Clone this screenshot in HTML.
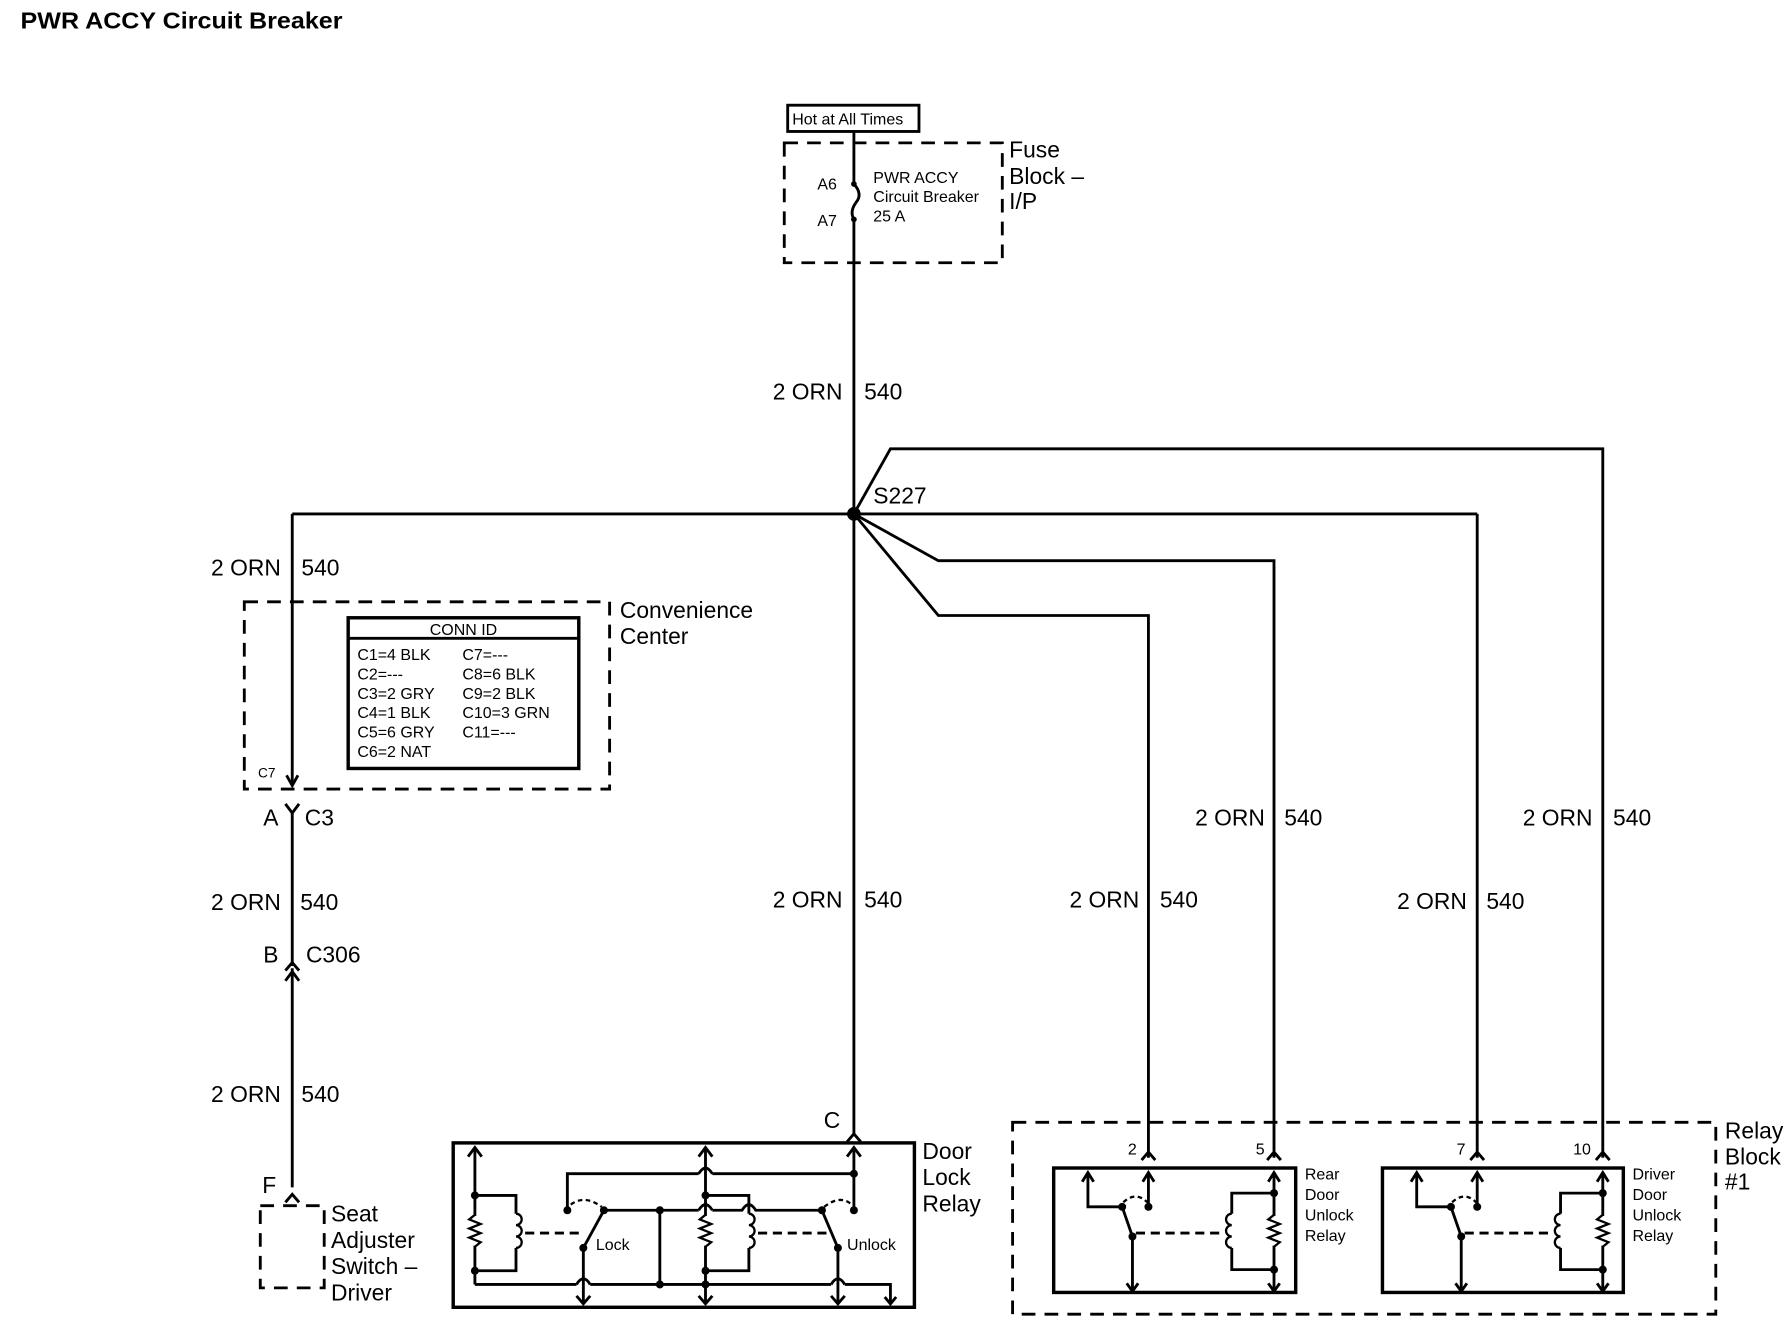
<!DOCTYPE html>
<html><head><meta charset="utf-8"><style>
html,body{margin:0;padding:0;background:#fff;}
svg{display:block;}
text{font-family:"Liberation Sans",Arial,sans-serif;fill:#000;}
</style></head><body>
<svg width="1790" height="1344" viewBox="0 0 1568 1177" xmlns="http://www.w3.org/2000/svg">
<rect x="0" y="0" width="1568" height="1177" fill="#fff"/>
<g font-size="20" font-weight="bold"><text x="18" y="25" textLength="282" lengthAdjust="spacingAndGlyphs">PWR ACCY Circuit Breaker</text></g>

<g stroke="#000" stroke-width="2.5" fill="none" stroke-linejoin="miter">
<rect x="690" y="92" width="115" height="23" stroke-width="2.5"/>
<rect x="687" y="125" width="191" height="105" stroke-dasharray="12,8"/>
<line x1="748" y1="115" x2="748" y2="161"/>
<path d="M748,161 Q756,170 750,177 Q744,185 748,192"/>
<line x1="748" y1="192" x2="748" y2="450"/>
<line x1="256" y1="450" x2="1294" y2="450"/>
<polyline points="1294,450 1294,1014"/>
<polyline points="748,450 780,393 1404,393 1404,1014"/>
<polyline points="748,450 822,491 1116,491 1116,1014"/>
<polyline points="748,450 822,539 1006,539 1006,1014"/>
<line x1="748" y1="450" x2="748" y2="995"/>
<line x1="256" y1="450" x2="256" y2="688"/>
<rect x="214" y="527" width="320" height="164" stroke-dasharray="12,8"/>
<rect x="305" y="541" width="202" height="132" stroke-width="3"/>
<line x1="305" y1="559" x2="507" y2="559"/>
<path d="M251,679 L256,688 L261,679"/>
<path d="M250,704 L256,712 L262,704"/>
<line x1="256" y1="712" x2="256" y2="846"/>
<path d="M250,850 L256,843 L262,850"/>
<line x1="256" y1="848" x2="256" y2="1040"/>
<path d="M250,859 L256,851 L262,859"/>
<path d="M250,1053 L256,1046 L262,1053"/>
<rect x="228" y="1056" width="56" height="72" stroke-dasharray="12,8"/>
<path d="M742,1000 L748,993 L754,1000"/>

<rect x="397" y="1001" width="404" height="144" stroke-width="3"/>
<line x1="416" y1="1005" x2="416" y2="1125"/>
<path d="M410,1013 L416,1005 L422,1013"/>
<polyline points="416,1047 452,1047 452,1113 416,1113"/>
<polyline points="416,1125 505,1125"/>
<path d="M505,1125 Q511,1115 517,1125"/>
<polyline points="517,1125 728,1125"/>
<path d="M728,1125 Q734,1115 740,1125"/>
<polyline points="740,1125 780,1125 780,1142"/>
<path d="M775,1136 L780,1142 L785,1136"/>
<polyline points="497,1060 497,1028 612,1028"/>
<path d="M612,1028 Q618,1018 624,1028"/>
<polyline points="624,1028 748,1028"/>
<line x1="511" y1="1093" x2="529" y2="1060"/>
<line x1="511" y1="1093" x2="511" y2="1142"/>
<path d="M505,1135 L511,1142 L517,1135"/>
<path d="M529,1060 L612,1060"/>
<path d="M612,1060 Q618,1050 624,1060"/>
<path d="M624,1060 L650,1060 Q656,1050 662,1060 L720,1060"/>
<line x1="578" y1="1060" x2="578" y2="1125"/>
<line x1="618" y1="1005" x2="618" y2="1142"/>
<path d="M612,1013 L618,1005 L624,1013"/>
<path d="M612,1135 L618,1142 L624,1135"/>
<polyline points="618,1047 656,1047 656,1113 618,1113"/>
<line x1="720" y1="1060" x2="734" y2="1093"/>
<line x1="734" y1="1093" x2="734" y2="1142"/>
<path d="M728,1135 L734,1142 L740,1135"/>
<line x1="748" y1="1005" x2="748" y2="1060"/>
<path d="M742,1013 L748,1005 L754,1013"/>
<line x1="460" y1="1080" x2="510" y2="1080" stroke-dasharray="8,5"/>
<line x1="664" y1="1080" x2="728" y2="1080" stroke-dasharray="8,5"/>
<path d="M500,1055 Q512,1046 527,1057" stroke-dasharray="4,3" stroke-width="2"/>
<path d="M722,1057 Q736,1046 746,1055" stroke-dasharray="4,3" stroke-width="2"/>

<rect x="887" y="983" width="616" height="168" stroke-dasharray="12,8"/>
<path d="M1000,1016 L1006,1009 L1012,1016"/>
<path d="M1110,1016 L1116,1009 L1122,1016"/>
<path d="M1288,1016 L1294,1009 L1300,1016"/>
<path d="M1398,1016 L1404,1009 L1410,1016"/>
<rect x="923" y="1023" width="212" height="109" stroke-width="3"/>
<rect x="1211" y="1023" width="211" height="109" stroke-width="3"/>
</g>

<g stroke="#000" stroke-width="2.5" fill="none" id="rr">
<polyline points="953,1028 953,1057 983,1057"/>
<path d="M948,1035 L953,1027 L958,1035"/>
<line x1="1006" y1="1027" x2="1006" y2="1057"/>
<path d="M1001,1035 L1006,1027 L1011,1035"/>
<path d="M984,1053 Q995,1043 1005,1053" stroke-dasharray="4,3" stroke-width="2"/>
<line x1="983" y1="1057" x2="992" y2="1083"/>
<line x1="992" y1="1083" x2="992" y2="1131"/>
<path d="M987,1124 L992,1131 L997,1124"/>
<line x1="995" y1="1080" x2="1072" y2="1080" stroke-dasharray="8,5"/>
<polyline points="1116,1045 1079,1045 1079,1112 1116,1112"/>
<line x1="1116" y1="1027" x2="1116" y2="1131"/>
<path d="M1111,1035 L1116,1027 L1121,1035"/>
<path d="M1111,1124 L1116,1131 L1121,1124"/>
</g>
<use href="#rr" transform="translate(288,0)"/>

<g fill="#000" stroke="none">
<circle cx="748" cy="161" r="2.5"/><circle cx="748" cy="192" r="2.5"/>
<circle cx="748" cy="450" r="6"/>
<circle cx="416" cy="1047" r="3.5"/><circle cx="416" cy="1113" r="3.5"/>
<circle cx="497" cy="1060" r="3.5"/><circle cx="529" cy="1060" r="3.5"/><circle cx="511" cy="1093" r="3.5"/>
<circle cx="578" cy="1060" r="3.5"/><circle cx="578" cy="1125" r="3.5"/>
<circle cx="618" cy="1047" r="3.5"/><circle cx="618" cy="1113" r="3.5"/><circle cx="618" cy="1125" r="3.5"/>
<circle cx="720" cy="1060" r="3.5"/><circle cx="748" cy="1060" r="3.5"/><circle cx="748" cy="1028" r="3.5"/><circle cx="734" cy="1093" r="3.5"/>
<circle cx="983" cy="1057" r="3.5"/><circle cx="1006" cy="1057" r="3.5"/><circle cx="992" cy="1083" r="3.5"/>
<circle cx="1116" cy="1045" r="3.5"/><circle cx="1116" cy="1112" r="3.5"/>
<circle cx="1271" cy="1057" r="3.5"/><circle cx="1294" cy="1057" r="3.5"/><circle cx="1280" cy="1083" r="3.5"/>
<circle cx="1404" cy="1045" r="3.5"/><circle cx="1404" cy="1112" r="3.5"/>
</g>

<g stroke="#000" stroke-width="2" fill="none">
<rect x="411" y="1065" width="10" height="26" fill="#fff" stroke="none"/>
<path d="M416,1064 L411,1068 L421,1072 L411,1076 L421,1080 L411,1084 L421,1088 L416,1092"/>
<rect x="613" y="1065" width="10" height="26" fill="#fff" stroke="none"/>
<path d="M618,1064 L613,1068 L623,1072 L613,1076 L623,1080 L613,1084 L623,1088 L618,1092"/>
<rect x="1111" y="1065" width="10" height="26" fill="#fff" stroke="none"/>
<path d="M1116,1064 L1111,1068 L1121,1072 L1111,1076 L1121,1080 L1111,1084 L1121,1088 L1116,1092"/>
<rect x="1399" y="1065" width="10" height="26" fill="#fff" stroke="none"/>
<path d="M1404,1064 L1399,1068 L1409,1072 L1399,1076 L1409,1080 L1399,1084 L1409,1088 L1404,1092"/>
<rect x="447" y="1063" width="12" height="30" fill="#fff" stroke="none"/>
<path d="M452,1063 a5,5 0 0 1 0,10 a5,5 0 0 1 0,10 a5,5 0 0 1 0,10"/>
<rect x="651" y="1063" width="12" height="30" fill="#fff" stroke="none"/>
<path d="M656,1063 a5,5 0 0 1 0,10 a5,5 0 0 1 0,10 a5,5 0 0 1 0,10"/>
<rect x="1072" y="1063" width="12" height="30" fill="#fff" stroke="none"/>
<path d="M1079,1063 a5,5 0 0 0 0,10 a5,5 0 0 0 0,10 a5,5 0 0 0 0,10"/>
<rect x="1360" y="1063" width="12" height="30" fill="#fff" stroke="none"/>
<path d="M1367,1063 a5,5 0 0 0 0,10 a5,5 0 0 0 0,10 a5,5 0 0 0 0,10"/>
</g>

<g font-size="14">
<text x="694" y="109">Hot at All Times</text>
<text x="765" y="160">PWR ACCY</text>
<text x="765" y="177">Circuit Breaker</text>
<text x="765" y="194">25 A</text>
<text x="716" y="166">A6</text>
<text x="716" y="198">A7</text>
<text x="406" y="556" text-anchor="middle">CONN ID</text>
<text x="313" y="578">C1=4 BLK</text><text x="405" y="578">C7=---</text>
<text x="313" y="595">C2=---</text><text x="405" y="595">C8=6 BLK</text>
<text x="313" y="612">C3=2 GRY</text><text x="405" y="612">C9=2 BLK</text>
<text x="313" y="629">C4=1 BLK</text><text x="405" y="629">C10=3 GRN</text>
<text x="313" y="646">C5=6 GRY</text><text x="405" y="646">C11=---</text>
<text x="313" y="663">C6=2 NAT</text>
<text x="226" y="681" font-size="12">C7</text>
<text x="522" y="1095">Lock</text>
<text x="742" y="1095">Unlock</text>
<text x="1143" y="1033">Rear</text><text x="1143" y="1051">Door</text><text x="1143" y="1069">Unlock</text><text x="1143" y="1087">Relay</text>
<text x="1430" y="1033">Driver</text><text x="1430" y="1051">Door</text><text x="1430" y="1069">Unlock</text><text x="1430" y="1087">Relay</text>
<text x="988" y="1011">2</text><text x="1100" y="1011">5</text><text x="1276" y="1011">7</text><text x="1378" y="1011">10</text>
</g>

<g font-size="20">
<text x="884" y="138">Fuse</text><text x="884" y="161">Block –</text><text x="884" y="183">I/P</text>
<text x="765" y="441">S227</text>
<text x="543" y="541">Convenience</text><text x="543" y="564">Center</text>
<text x="738" y="350" text-anchor="end">2 ORN</text><text x="757" y="350">540</text>
<text x="246" y="504" text-anchor="end">2 ORN</text><text x="264" y="504">540</text>
<text x="244" y="723" text-anchor="end">A</text><text x="267" y="723">C3</text>
<text x="246" y="797" text-anchor="end">2 ORN</text><text x="263" y="797">540</text>
<text x="244" y="843" text-anchor="end">B</text><text x="268" y="843">C306</text>
<text x="246" y="965" text-anchor="end">2 ORN</text><text x="264" y="965">540</text>
<text x="242" y="1045" text-anchor="end">F</text>
<text x="290" y="1070">Seat</text><text x="290" y="1093">Adjuster</text><text x="290" y="1116">Switch –</text><text x="290" y="1139">Driver</text>
<text x="738" y="795" text-anchor="end">2 ORN</text><text x="757" y="795">540</text>
<text x="736" y="988" text-anchor="end">C</text>
<text x="808" y="1015">Door</text><text x="808" y="1038">Lock</text><text x="808" y="1061">Relay</text>
<text x="998" y="795" text-anchor="end">2 ORN</text><text x="1016" y="795">540</text>
<text x="1108" y="723" text-anchor="end">2 ORN</text><text x="1125" y="723">540</text>
<text x="1285" y="796" text-anchor="end">2 ORN</text><text x="1302" y="796">540</text>
<text x="1395" y="723" text-anchor="end">2 ORN</text><text x="1413" y="723">540</text>
<text x="1511" y="997">Relay</text><text x="1511" y="1020">Block</text><text x="1511" y="1042">#1</text>
</g>
</svg>
</body></html>
